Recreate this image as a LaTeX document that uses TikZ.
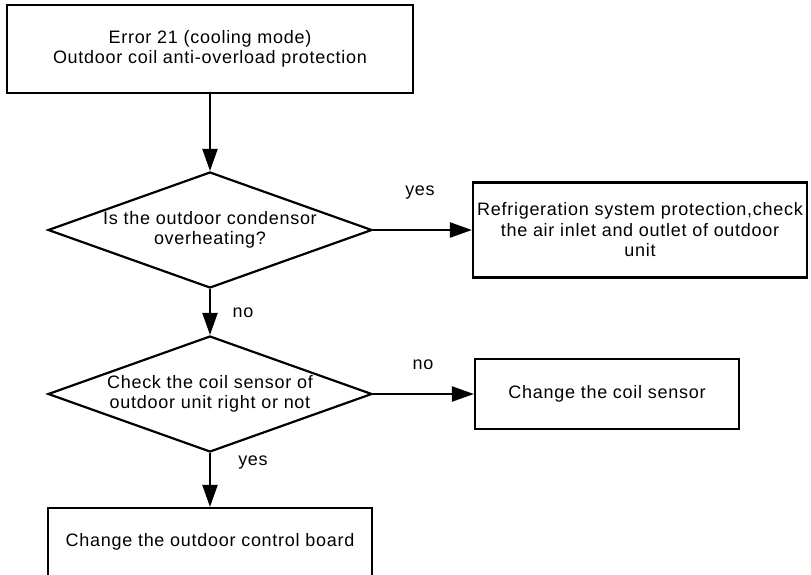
\documentclass[tikz,border=0pt]{standalone}
\usepackage{fontspec}
\setmainfont{Liberation Sans}[LetterSpace=4.0]
\usetikzlibrary{arrows.meta,shapes.geometric}

\begin{document}
\begin{tikzpicture}[x=1pt,y=-1pt,>={Triangle[length=22pt,width=15pt]},line width=2.2pt,
  every node/.style={font=\fontsize{18}{20.5}\selectfont,align=center},
  box/.style={draw,rectangle,inner sep=0pt},
  dec/.style={draw,diamond,aspect=2.8,inner sep=0pt,minimum width=324pt,minimum height=116pt},
  lbl/.style={inner sep=0pt}]
\useasboundingbox (0,0) rectangle (811,574);
\node[box,minimum width=406pt,minimum height=88pt] (err) at (210,49) {Error 21 (cooling mode)\\Outdoor coil anti-overload protection};
\node[dec] (hot) at (210,230) {Is the outdoor condensor\\overheating?};
\node[box,minimum width=334pt,minimum height=95pt] (prot) at (640,230) {Refrigeration system protection,check\\the air inlet and outlet of outdoor\\unit};
\node[dec] (sensor) at (210,394) {Check the coil sensor of\\outdoor unit right or not};
\node[box,minimum width=264pt,minimum height=70pt] (coil) at (607,394) {Change the coil sensor};
\node[box,minimum width=324pt,minimum height=68pt] (board) at (210,542) {Change the outdoor control board};
\draw[->] (err) -- (hot);
\draw[->] (hot) -- (prot);
\node[lbl] (yes1) at (420,193) {yes};
\draw[->] (hot) -- (sensor);
\node[lbl] (no1) at (243,313) {no};
\draw[->] (sensor) -- (coil);
\node[lbl] (no2) at (423,365) {no};
\draw[->] (sensor) -- (board);
\node[lbl] (yes2) at (253,463) {yes};
\end{tikzpicture}
\end{document}
